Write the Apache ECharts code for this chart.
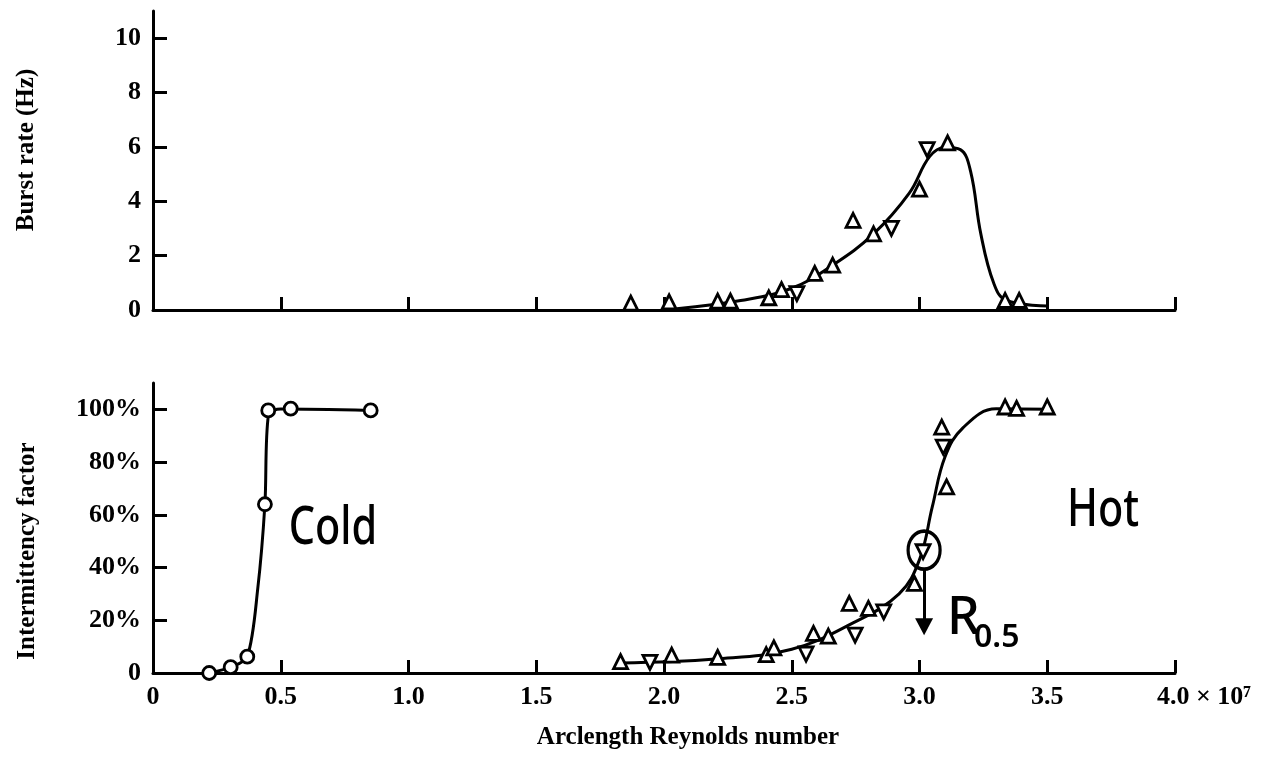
<!DOCTYPE html>
<html>
<head>
<meta charset="utf-8">
<script src="https://cdn.jsdelivr.net/npm/echarts@6/dist/echarts.min.js"></script>
<style>html,body{margin:0;padding:0;background:#fff;}#c{width:1268px;height:763px;}</style>
</head>
<body>
<div id="c"></div>
<script>
// ---- Data (x in units of 10^7) ----
const xTicks = [0, 0.5, 1.0, 1.5, 2.0, 2.5, 3.0, 3.5, 4.0];
const burstTicks = [0, 2, 4, 6, 8, 10];
const interTicks = [0, 20, 40, 60, 80, 100];

// Top panel: burst rate (Hz)
const burstUp = [[1.87,0.25],[2.02,0.3],[2.21,0.33],[2.26,0.33],[2.41,0.45],[2.46,0.75],[2.59,1.35],[2.66,1.65],[2.74,3.3],[2.82,2.8],[3.00,4.45],[3.11,6.15],[3.335,0.35],[3.39,0.35]];
const burstDown = [[2.52,0.6],[2.89,3.0],[3.03,5.9]];
const burstCurve = [[2.05,0.05],[2.3,0.35],[2.5,0.8],[2.66,1.65],[2.82,2.8],[2.96,4.3],[3.04,5.65],[3.1,5.98],[3.16,5.9],[3.2,5.1],[3.24,2.8],[3.29,1.0],[3.34,0.35],[3.5,0.15]];

// Bottom panel: intermittency factor (%)
const coldPts = [[0.22,0],[0.304,2.2],[0.369,6.2],[0.438,64],[0.451,99.6],[0.539,100.3],[0.852,99.6]];
const coldCurve = [[0.22,0],[0.304,2.2],[0.369,6.2],[0.41,32],[0.438,64],[0.452,98],[0.50,100.1],[0.852,99.6]];
const hotUp = [[1.83,4.3],[2.03,6.8],[2.21,5.9],[2.40,7.0],[2.43,9.5],[2.585,15],[2.643,14],[2.725,26.4],[2.80,24.5],[2.98,34],[3.087,93.3],[3.106,70.6],[3.335,100.9],[3.38,100.4],[3.50,100.9]];
const hotDown = [[1.945,4.0],[2.556,7.2],[2.748,14.4],[2.86,23.2],[3.014,46],[3.093,85.7]];
const hotCurve = [[1.83,3.8],[2.2,5.3],[2.5,9],[2.74,19],[2.92,30],[3.0,43],[3.05,63],[3.1,82],[3.17,93],[3.3,100.2],[3.51,100]];
const r05Point = [[3.018,46.6]];
const r05Arrow = [[3.018,39.5],[3.018,17.5]];

// ---- Styles ----
const FONT = '"Liberation Serif", "DejaVu Serif", serif';
const HAND = '"Noto Sans", "Open Sans", sans-serif';
const axisLineStyle = {color:'#000', width:3};
const tickStyle = {color:'#000', width:3};
const markerStyle = {color:'#fff', borderColor:'#000', borderWidth:2.8, opacity:1};
const curveStyle = {color:'#000', width:3};

function xAxis(grid, showLabel){
  return {
    type:'value', gridIndex:grid, min:0, max:4, interval:0.5,
    axisLine:{show:true, onZero:false, lineStyle:axisLineStyle},
    axisTick:{show:true, inside:true, length:13, lineStyle:tickStyle},
    splitLine:{show:false},
    axisLabel:{
      show:showLabel, margin:11, color:'#000', fontFamily:FONT, fontWeight:'bold', fontSize:26,
      formatter:function(v){
        if (v === 0) return '0';
        if (v === 4) return '{e|4.0 × 10⁷}';
        return v.toFixed(1);
      },
      rich:{e:{fontFamily:FONT, fontWeight:'bold', fontSize:26, color:'#000', padding:[0,0,0,58]}}
    }
  };
}
function yAxis(grid, max, ticks, fmt){
  return {
    type:'value', gridIndex:grid, min:0, max:max,
    axisLine:{show:true, onZero:false, lineStyle:axisLineStyle},
    axisTick:{show:true, inside:true, length:14, lineStyle:tickStyle, customValues:ticks},
    splitLine:{show:false},
    axisLabel:{show:true, margin:12, color:'#000', fontFamily:FONT, fontWeight:'bold', fontSize:26,
      customValues:ticks, formatter:fmt}
  };
}

const chart = echarts.init(document.getElementById('c'), null, {renderer:'canvas'});
chart.setOption({
  animation:false,
  backgroundColor:'#fff',
  grid:[
    {left:153, right:93, top:11, height:299},
    {left:153, right:93, top:383, height:290}
  ],
  xAxis:[xAxis(0,false), xAxis(1,true)],
  yAxis:[
    yAxis(0, 11, burstTicks, function(v){return String(v);}),
    yAxis(1, 110, interTicks, function(v){return v===0 ? '0' : v + '%';})
  ],
  series:[
    {type:'line', xAxisIndex:0, yAxisIndex:0, data:burstCurve, smooth:0.4, showSymbol:false, lineStyle:curveStyle, z:2},
    {type:'scatter', xAxisIndex:0, yAxisIndex:0, data:burstUp, symbol:'triangle', symbolSize:14, itemStyle:markerStyle, z:3},
    {type:'scatter', xAxisIndex:0, yAxisIndex:0, data:burstDown, symbol:'triangle', symbolRotate:180, symbolSize:14, itemStyle:markerStyle, z:3},
    {type:'line', xAxisIndex:1, yAxisIndex:1, data:coldCurve, smooth:0.3, showSymbol:false, lineStyle:curveStyle, z:2},
    {type:'scatter', xAxisIndex:1, yAxisIndex:1, data:coldPts, symbol:'circle', symbolSize:13, itemStyle:markerStyle, z:3},
    {type:'line', xAxisIndex:1, yAxisIndex:1, data:hotCurve, smooth:0.4, showSymbol:false, lineStyle:curveStyle, z:2,
      markLine:{silent:true, symbol:['none','triangle'], symbolSize:[18,17], animation:false,
        lineStyle:{color:'#000', width:3, type:'solid'}, label:{show:false},
        data:[[{coord:r05Arrow[0]},{coord:r05Arrow[1]}]]}},
    {type:'scatter', xAxisIndex:1, yAxisIndex:1, data:hotUp, symbol:'triangle', symbolSize:14, itemStyle:markerStyle, z:3},
    {type:'scatter', xAxisIndex:1, yAxisIndex:1, data:hotDown, symbol:'triangle', symbolRotate:180, symbolSize:14, itemStyle:markerStyle, z:3},
    {type:'scatter', xAxisIndex:1, yAxisIndex:1, data:r05Point, symbol:'circle', symbolSize:[32,38], itemStyle:{color:'rgba(0,0,0,0)', borderColor:'#000', borderWidth:3.5, opacity:1}, z:4}
  ],
  graphic:[
    {type:'text', x:27, y:150, rotation:Math.PI/2, style:{text:'Burst rate (Hz)', fontFamily:FONT, fontWeight:'bold', fontSize:25, fill:'#000', align:'center', verticalAlign:'middle'}},
    {type:'text', x:28, y:551, rotation:Math.PI/2, style:{text:'Intermittency factor', fontFamily:FONT, fontWeight:'bold', fontSize:25, fill:'#000', align:'center', verticalAlign:'middle'}},
    {type:'text', x:688, y:738, style:{text:'Arclength Reynolds number', fontFamily:FONT, fontWeight:'bold', fontSize:25, fill:'#000', align:'center', verticalAlign:'middle'}},
    {type:'text', x:333, y:529, scaleX:0.9, scaleY:1.15, style:{text:'Cold', fontFamily:HAND, fontWeight:500, fontSize:46, fill:'#000', align:'center', verticalAlign:'middle'}},
    {type:'text', x:1103, y:511, scaleX:0.9, scaleY:1.15, style:{text:'Hot', fontFamily:HAND, fontWeight:500, fontSize:46, fill:'#000', align:'center', verticalAlign:'middle'}},
    {type:'text', x:947, y:619, style:{text:'R', fontFamily:HAND, fontWeight:500, fontSize:52, fill:'#000', align:'left', verticalAlign:'middle'}},
    {type:'text', x:974, y:638, style:{text:'0.5', fontFamily:HAND, fontWeight:600, fontSize:32, fill:'#000', align:'left', verticalAlign:'middle'}}
  ]
});
</script>
</body>
</html>
